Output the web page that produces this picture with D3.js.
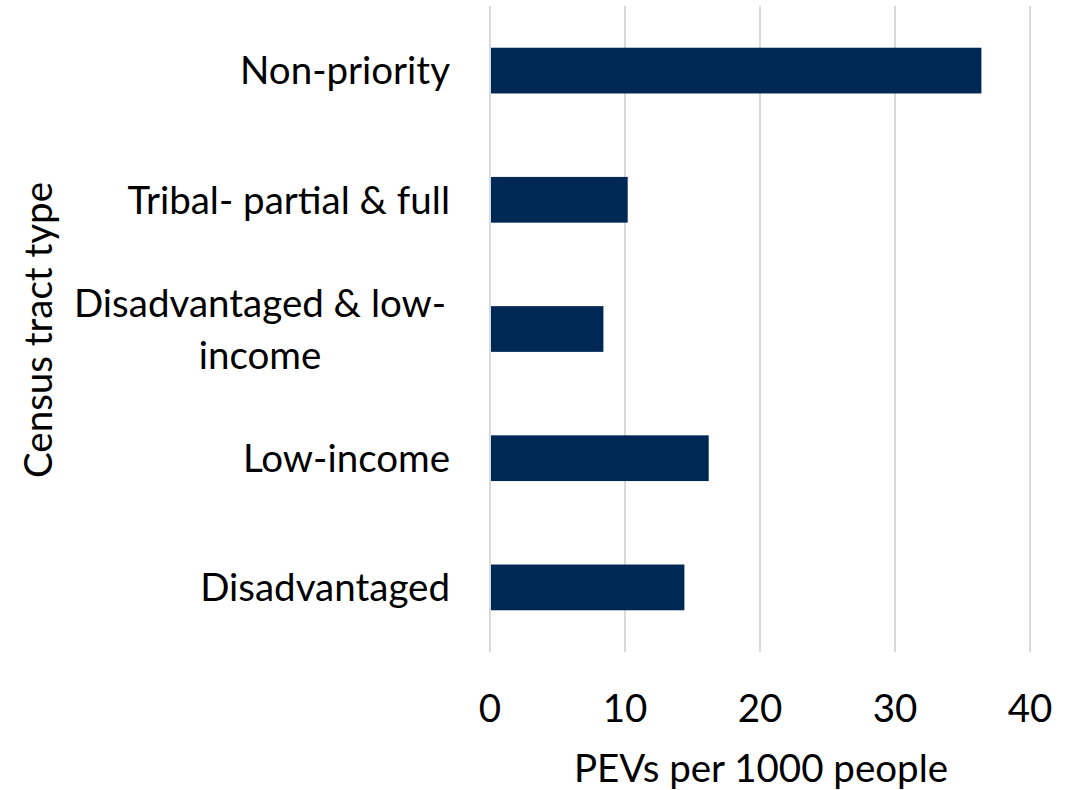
<!DOCTYPE html>
<html><head><meta charset="utf-8">
<script src="https://cdn.jsdelivr.net/npm/d3@7"></script>
<style>body{margin:0;background:#fff;} svg{display:block;}</style>
</head><body>
<script>
const categories = ["Non-priority", "Tribal- partial & full", "Disadvantaged & low-income", "Low-income", "Disadvantaged"];
const labelLines = [["Non-priority"], ["Tribal- partial & full"], ["Disadvantaged & low-", "income"], ["Low-income"], ["Disadvantaged"]];
const values = [36.4, 10.2, 8.4, 16.2, 14.4];
const xTicks = [0, 10, 20, 30, 40];
const xTitle = "PEVs per 1000 people";
const yTitle = "Census tract type";

(function () {
const W = 1073, H = 790;
const pLeft = 490, pRight = 1030, pTop = 6, pBottom = 652;
const font = "Lato, 'Open Sans', sans-serif";
const fs = 38.5;

const svg = d3.select("body").append("svg").attr("width", W).attr("height", H);
const x = d3.scaleLinear().domain([0, 40]).range([pLeft, pRight]);
const y = d3.scaleBand().domain(categories).range([pTop, pBottom]).paddingInner(0.646).paddingOuter(0.323);

svg.append("g").selectAll("line").data(xTicks).join("line")
  .attr("x1", d => x(d)).attr("x2", d => x(d)).attr("y1", pTop).attr("y2", pBottom)
  .attr("stroke", "#d9d9d9").attr("stroke-width", 2);

svg.append("g").selectAll("rect").data(values).join("rect")
  .attr("x", x(0) + 1).attr("y", (d, i) => y(categories[i]))
  .attr("width", d => x(d) - x(0) - 1).attr("height", y.bandwidth())
  .attr("fill", "#002855");

svg.append("g").selectAll("text").data(xTicks).join("text")
  .attr("x", d => x(d)).attr("y", 722).attr("text-anchor", "middle")
  .attr("font-family", font).attr("font-size", fs).attr("fill", "#000").text(d => d);

const lg = svg.append("g");
categories.forEach((c, i) => {
  const lines = labelLines[i];
  const cy = y(c) + y.bandwidth() / 2;
  const lh = 52;
  const t = lg.append("text").attr("font-family", font).attr("font-size", fs).attr("fill", "#000");
  if (lines.length === 1) {
    t.attr("x", 450).attr("y", cy).attr("dy", "0.36em").attr("text-anchor", "end").text(lines[0]);
  } else {
    lines.forEach((ln, j) => {
      t.append("tspan").attr("x", 260).attr("text-anchor", "middle")
        .attr("y", cy + (j - (lines.length - 1) / 2) * lh).attr("dy", "0.36em").text(ln);
    });
  }
});

svg.append("text").attr("x", 761).attr("y", 782).attr("text-anchor", "middle")
  .attr("font-family", font).attr("font-size", fs).attr("fill", "#000").text(xTitle);

svg.append("text").attr("transform", "translate(52,330) rotate(-90)").attr("text-anchor", "middle")
  .attr("font-family", font).attr("font-size", fs).attr("fill", "#000").text(yTitle);
})();
</script>
</body></html>
